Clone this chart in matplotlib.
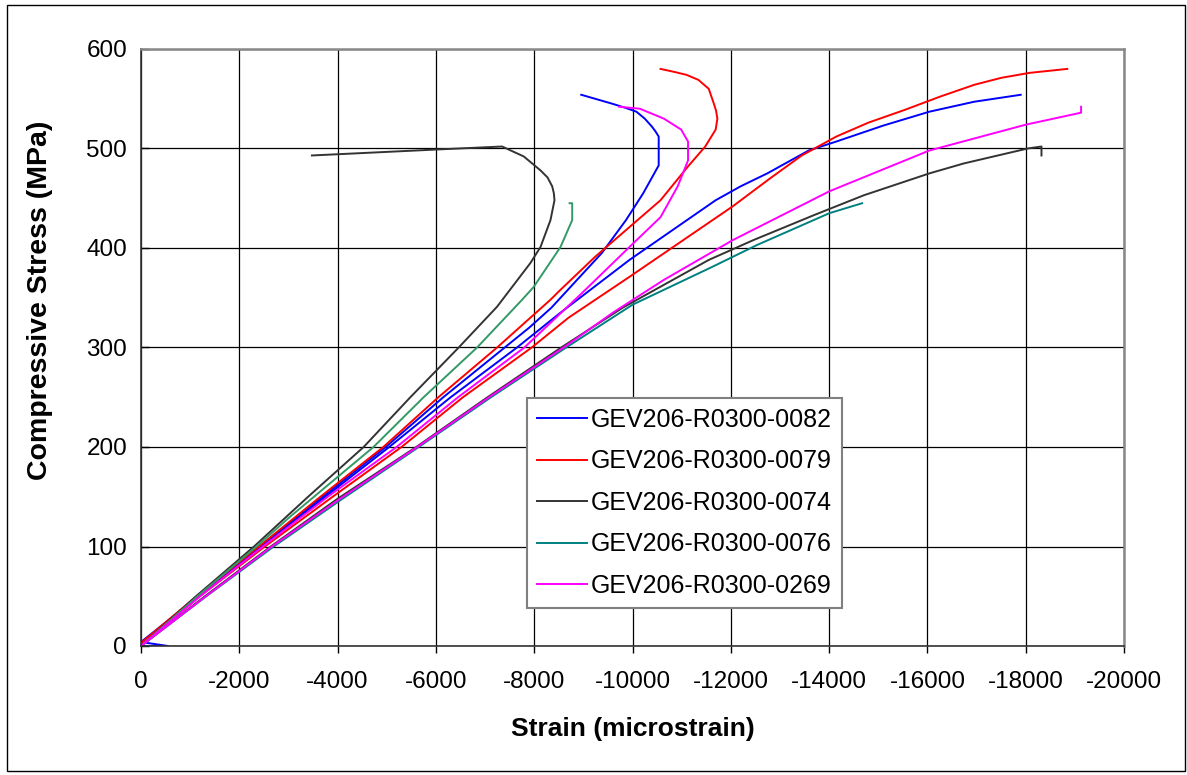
import matplotlib
matplotlib.use("Agg")
import matplotlib.pyplot as plt
from matplotlib.patches import Rectangle

# =========================
# DATA (strain in microstrain, stress in MPa)
# each specimen has two gauges: "a" (bends back) and "b" (keeps going)
# =========================

specimens = ["GEV206-R0300-0082", "GEV206-R0300-0079", "GEV206-R0300-0074",
             "GEV206-R0300-0076", "GEV206-R0300-0269"]

strain_0082_a = [0, -1150, -2420, -3700, -4980, -6150, -7400, -7900, -8350, -8816, -9377,
                 -9867, -10218, -10533, -10533, -10470, -10395, -10250, -10079, -9850, -9588, -8957]
stress_0082_a = [0, 50, 100, 150, 200, 250, 300, 320, 340, 365, 395,
                 428, 455, 483, 512, 517, 522, 530, 537, 541, 545, 554]
strain_0082_b = [0, -550, 0, -1170, -2440, -3750, -5050, -6300, -7650, -8535,
                 -9938, -11692, -12200, -12743, -13585, -14147, -15100, -16041, -16952, -17899]
stress_0082_b = [0, 0, 4, 50, 100, 150, 200, 250, 300, 335,
                 388, 448, 462, 475, 498, 507, 523, 537, 547, 554]

strain_0079_a = [0, -1130, -2400, -3650, -4930, -6050, -7245, -8331, -8535, -9236, -9938,
                 -10570, -11130, -11480, -11692, -11727, -11700, -11656, -11551, -11340,
                 -11100, -10849, -10570]
stress_0079_a = [3, 50, 100, 150, 200, 250, 300, 348, 358, 391, 421,
                 448, 482, 502, 519, 530, 538, 545, 560, 569,
                 574, 577, 580]
strain_0079_b = [0, -1200, -2520, -3900, -5300, -6550, -7950, -8700, -9938,
                 -12043, -12800, -13444, -14147, -14800, -15550, -16250, -16952,
                 -17500, -18075, -18846]
stress_0079_b = [0, 50, 100, 150, 200, 250, 300, 330, 371,
                 442, 470, 493, 512, 526, 539, 552, 564,
                 571, 576, 580]

strain_0074_a = [0, -1120, -2300, -3400, -4530, -5480, -6464, -7245, -7924, -8128,
                 -8331, -8413, -8400, -8366, -8270, -8128, -7788, -7347, -6023, -3477]
stress_0074_a = [0, 50, 100, 150, 200, 250, 300, 341, 385, 401,
                 428, 448, 455, 462, 471, 478, 492, 502, 499, 493]
strain_0074_b = [0, -1300, -2640, -4000, -5600, -7050, -8550, -9800, -11551,
                 -12462, -13690, -14707, -16041, -16742, -18040, -18321, -18321]
stress_0074_b = [0, 50, 100, 148, 200, 250, 300, 340, 388,
                 408, 433, 453, 475, 485, 500, 502, 493]

strain_0076_a = [0, -1150, -2350, -3035, -4730, -5750, -6838, -7754, -7992,
                 -8535, -8773, -8773, -8720]
stress_0076_a = [0, 50, 100, 130, 200, 250, 300, 348, 361,
                 401, 428, 445, 445]
strain_0076_b = [0, -1330, -2700, -4100, -5650, -7120, -8650, -10000, -11621,
                 -12533, -14006, -14672]
stress_0076_b = [0, 50, 100, 148, 200, 250, 300, 343, 381,
                 403, 435, 445]

strain_0269_a = [0, -1200, -2480, -3800, -5200, -6450, -7800, -8957, -9938,
                 -10570, -10920, -11130, -11130, -10990, -10639, -10148, -9727]
stress_0269_a = [0, 50, 100, 150, 200, 250, 300, 354, 401,
                 431, 462, 488, 507, 519, 530, 540, 542]
strain_0269_b = [0, -1320, -2660, -4050, -5620, -7080, -8600, -9600, -10639,
                 -12043, -14006, -16041, -18005, -19127, -19127]
stress_0269_b = [0, 50, 100, 148, 200, 250, 300, 335, 368,
                 408, 457, 498, 524, 536, 542]

x_ticks = list(range(0, -20001, -2000))
y_ticks = list(range(0, 601, 100))

# =========================
# PLOT
# =========================

plt.rcParams["font.family"] = ["Liberation Sans", "DejaVu Sans"]
plt.rcParams["axes.unicode_minus"] = False

fig = plt.figure(figsize=(11.87, 7.75), dpi=100)
fig.patches.append(Rectangle((7 / 1187, 4 / 775), 1178 / 1187, 766 / 775,
                             transform=fig.transFigure, fill=False,
                             edgecolor="black", linewidth=1.0))

ax = fig.add_axes([141 / 1187, 1 - 646 / 775, 983 / 1187, 597 / 775])

curves = [
    (strain_0082_a, stress_0082_a, strain_0082_b, stress_0082_b, "#0000FF", "#0000FF"),
    (strain_0079_a, stress_0079_a, strain_0079_b, stress_0079_b, "#FF0000", "#FF0000"),
    (strain_0074_a, stress_0074_a, strain_0074_b, stress_0074_b, "#333333", "#333333"),
    (strain_0076_a, stress_0076_a, strain_0076_b, stress_0076_b, "#339966", "#008080"),
    (strain_0269_a, stress_0269_a, strain_0269_b, stress_0269_b, "#FF00FF", "#FF00FF"),
]

for name, (xa, ya, xb, yb, ca, cb) in zip(specimens, curves):
    ax.plot(xb, yb, color=cb, lw=1.4, label=name)
    ax.plot(xa, ya, color=ca, lw=1.4)

ax.set_xlim(0, -20000)
ax.set_ylim(0, 600)
ax.set_xticks(x_ticks)
ax.set_yticks(y_ticks)
ax.grid(True, color="black", lw=0.9)
ax.set_axisbelow(True)

for side in ["top", "right"]:
    ax.spines[side].set_color("#888888")
    ax.spines[side].set_linewidth(1.8)
for side in ["left", "bottom"]:
    ax.spines[side].set_color("#333333")
    ax.spines[side].set_linewidth(1.2)

ax.tick_params(axis="x", direction="out", length=5, width=1, pad=13, labelsize=17.5)
ax.tick_params(axis="y", direction="in", length=6, width=1, pad=10, labelsize=17.5)

fig.text(633 / 1187, 1 - 729 / 775, "Strain (microstrain)", ha="center", va="center",
         fontsize=19, fontweight="bold")
fig.text(40 / 1187, 1 - 300 / 775, "Compressive Stress (MPa)", ha="center", va="center",
         rotation=90, fontsize=20.5, fontweight="bold")

leg = ax.legend(loc="lower left", bbox_to_anchor=(0.3927, 0.0637, 0.3204, 0.3534),
                mode="expand", fontsize=18, handlelength=2.0, handletextpad=0.15,
                labelspacing=0.7, borderpad=0.4, borderaxespad=0, frameon=True,
                fancybox=False)
leg.get_frame().set_edgecolor("#808080")
leg.get_frame().set_linewidth(1.5)
leg.get_frame().set_alpha(1)

fig.savefig("out.png", dpi=100)
